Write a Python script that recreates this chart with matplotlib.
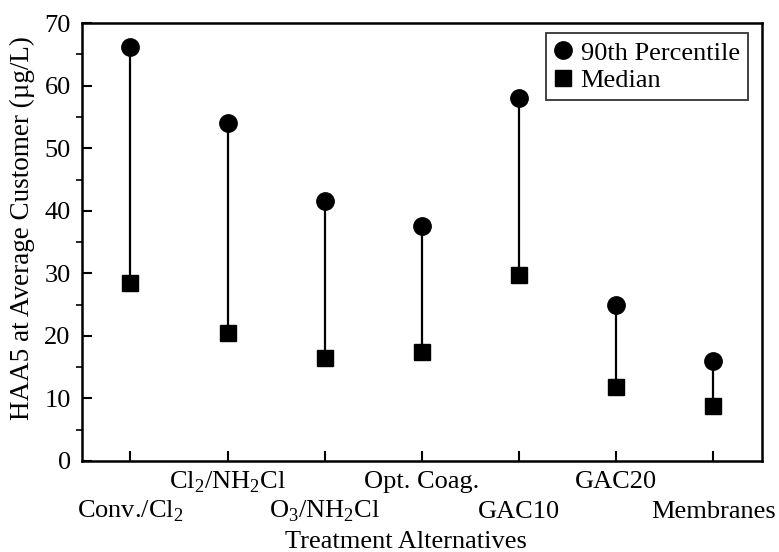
import matplotlib.pyplot as plt

plt.rcParams['font.family'] = ['Liberation Serif', 'DejaVu Serif']
plt.rcParams['mathtext.fontset'] = 'custom'
plt.rcParams['mathtext.rm'] = 'Liberation Serif'

treatments = ['Conv./Cl$_2$', 'Cl$_2$/NH$_2$Cl', 'O$_3$/NH$_2$Cl', 'Opt. Coag.',
              'GAC10', 'GAC20', 'Membranes']
p90 = [66.2, 54.0, 41.6, 37.6, 58.0, 24.9, 16.0]
median = [28.4, 20.4, 16.5, 17.4, 29.7, 11.8, 8.8]

fig = plt.figure(figsize=(7.79, 5.52), dpi=100)
ax = fig.add_axes([0.105, 0.165, 0.873, 0.793])

x = list(range(len(treatments)))
ax.vlines(x, median, p90, color='black', lw=1.6, zorder=1)
ax.plot(x, p90, 'o', color='black', ms=12.5, ls='none', label='90th Percentile', zorder=2)
ax.plot(x, median, 's', color='black', ms=12, ls='none', label='Median', zorder=2)

ax.set_xlim(-0.5, 6.5)
ax.set_ylim(0, 70)
ax.set_yticks(range(0, 71, 10))
ax.set_yticks(range(5, 70, 10), minor=True)
ax.set_xticks(x)
ax.set_xticklabels([])
ax.tick_params(axis='both', direction='in', width=1.5, labelsize=19)
ax.tick_params(axis='y', which='major', length=7, pad=8)
ax.tick_params(axis='y', which='minor', length=4, width=1.2)
ax.tick_params(axis='x', length=7)
for s in ax.spines.values():
    s.set_linewidth(1.8)

# category names alternate between two rows
for i, name in enumerate(treatments):
    yoff = -0.062 if i % 2 == 1 else -0.130
    ax.text(i, yoff, name, transform=ax.get_xaxis_transform(), ha='center',
            va='baseline', fontsize=19)

ax.text(0.476, -0.199, 'Treatment Alternatives', transform=ax.transAxes,
        ha='center', va='baseline', fontsize=19)
fig.text(22 / 779, 1 - 228 / 552, 'HAA5 at Average Customer (µg/L)', rotation=90,
         ha='center', va='center', fontsize=19.5)

leg = ax.legend(loc='upper right', bbox_to_anchor=(0.979, 0.977), fontsize=19,
                frameon=True, fancybox=False, handlelength=0.7, handletextpad=0.3,
                borderpad=0.3, labelspacing=0.15, borderaxespad=0)
leg.get_frame().set_edgecolor('black')
leg.get_frame().set_linewidth(1.3)

fig.savefig('out.png', dpi=100)
